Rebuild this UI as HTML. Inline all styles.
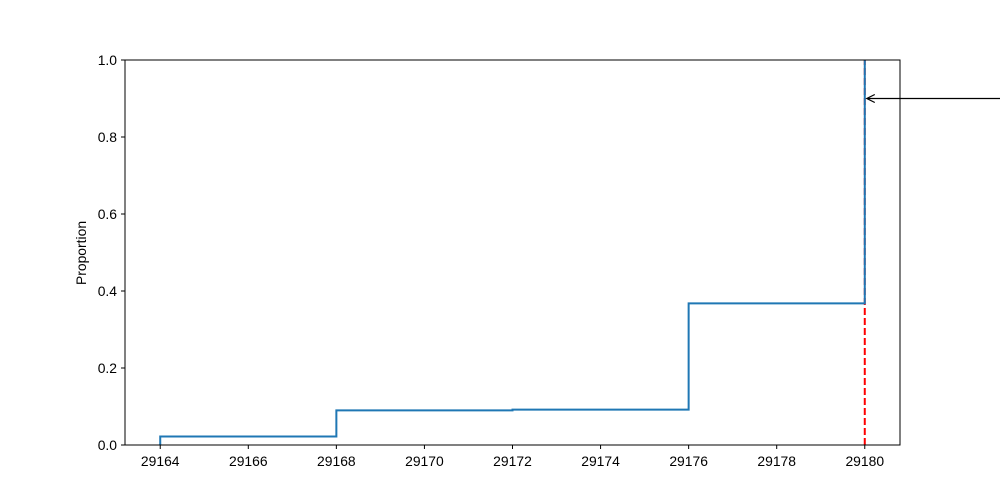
<!DOCTYPE html>
<html><head><meta charset="utf-8"><style>body{margin:0;background:#fff}svg{display:block;font-family:"Liberation Sans",sans-serif}</style></head>
<body>
<svg id="chart" width="1000" height="500" viewBox="0 0 1000 500"></svg>
<script>
const stepX = [29164, 29168, 29172, 29176, 29180];
const stepY = [0.022, 0.090, 0.092, 0.368, 1.0];
const xTicks = [29164, 29166, 29168, 29170, 29172, 29174, 29176, 29178, 29180];
const yTicks = [0.0, 0.2, 0.4, 0.6, 0.8, 1.0];
const markerX = 29180;
const annotY = 0.9;
const L=125,R=900,T=60,B=445, xmin=29163.2, xmax=29180.8;
const sx=v=>L+(v-xmin)/(xmax-xmin)*(R-L), sy=v=>B-v*(B-T);
const svg=document.getElementById('chart'), NS='http://www.w3.org/2000/svg';
function mk(t,a,p){const e=document.createElementNS(NS,t);for(const k in a)e.setAttribute(k,a[k]);(p||svg).appendChild(e);return e;}
let r=mk('line',{x1:sx(markerX),x2:sx(markerX),y1:sy(0),y2:sy(1),stroke:'#ff0000','stroke-width':2,'stroke-dasharray':'7,3'});

let d='M'+sx(stepX[0])+','+sy(0);
for(let i=0;i<stepX.length;i++){d+=' L'+sx(stepX[i])+','+sy(i?stepY[i-1]:0)+' L'+sx(stepX[i])+','+sy(stepY[i]);}
let p=mk('path',{d:d,fill:'none',stroke:'#1f77b4','stroke-width':2});

let f=mk('rect',{x:L,y:T,width:R-L,height:B-T,fill:'none',stroke:'#000','stroke-width':1});

xTicks.forEach(v=>{const x=sx(v);mk('line',{x1:x,x2:x,y1:B,y2:B+4,stroke:'#000'});
 const t=mk('text',{x:x,y:B+21,'text-anchor':'middle','font-size':13.9});t.textContent=v;
 });
yTicks.forEach(v=>{const y=sy(v);mk('line',{x1:L-4,x2:L,y1:y,y2:y,stroke:'#000'});
 const t=mk('text',{x:L-8,y:y+5,'text-anchor':'end','font-size':13.9});t.textContent=v.toFixed(1);
 });
let yt=mk('text',{x:86,y:253,'text-anchor':'middle','font-size':13.9,transform:'rotate(-90 86 253)'});yt.textContent='Proportion';

const ay=sy(annotY), ax=sx(markerX)+2;
let a=mk('path',{d:`M1000,${ay} L${ax},${ay} M${ax+8},${ay-4} L${ax},${ay} L${ax+8},${ay+4}`,fill:'none',stroke:'#000','stroke-width':1.2});

</script>
</body></html>
